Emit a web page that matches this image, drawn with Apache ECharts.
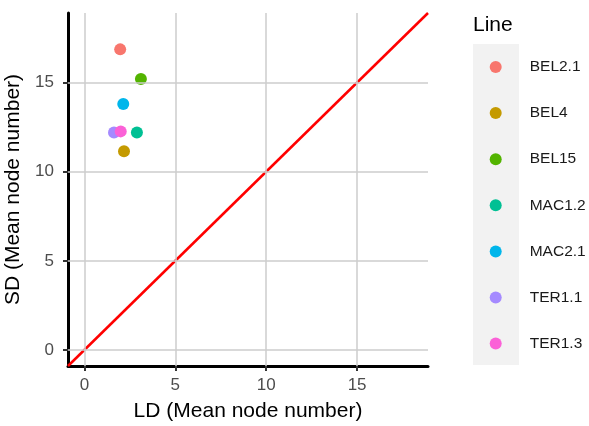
<!DOCTYPE html>
<html>
<head>
<meta charset="utf-8">
<script src="https://cdn.jsdelivr.net/npm/echarts@6/dist/echarts.min.js"></script>
<style>
html,body{margin:0;padding:0;background:#fff;}
#chart{width:589px;height:426px;}
</style>
</head>
<body>
<div id="chart"></div>
<script>
// Data
var lines = ['BEL2.1', 'BEL4', 'BEL15', 'MAC1.2', 'MAC2.1', 'TER1.1', 'TER1.3'];
var ldValues = [1.97, 2.18, 3.11, 2.89, 2.14, 1.63, 2.00];
var sdValues = [16.86, 11.15, 15.20, 12.20, 13.80, 12.20, 12.26];
var colors = ['#F8766D', '#C49A00', '#53B400', '#00C094', '#00B6EB', '#A58AFF', '#FB61D7'];
var tickValues = [0, 5, 10, 15];
var axisMin = -0.9, axisMax = 18.9;
// reference line y = x (intercept 0, slope 1)
var ablineX = [axisMin, axisMax];

var FONT = "'Liberation Sans', Arial, Helvetica, sans-serif";
var chart = echarts.init(document.getElementById('chart'), null, {renderer: 'canvas'});

var gridMarks = [];
tickValues.forEach(function (v) { gridMarks.push({xAxis: v}); });
tickValues.forEach(function (v) { gridMarks.push({yAxis: v}); });

var series = [{
  type: 'line',
  name: '__grid',
  data: [],
  z: 1,
  silent: true,
  markLine: {
    silent: true,
    symbol: ['none', 'none'],
    label: {show: false},
    lineStyle: {color: '#CCCCCC', width: 1.5, type: 'solid'},
    emphasis: {disabled: true},
    animation: false,
    data: gridMarks
  }
}, {
  type: 'line',
  name: '__abline',
  data: ablineX.map(function (x) { return [x, x]; }),
  showSymbol: false,
  symbol: 'none',
  z: 2,
  silent: true,
  lineStyle: {color: '#FF0000', width: 2.5},
  animation: false
}];

lines.forEach(function (name, i) {
  series.push({
    type: 'scatter',
    name: name,
    data: [[ldValues[i], sdValues[i]]],
    symbol: 'circle',
    symbolSize: 12,
    itemStyle: {color: colors[i], opacity: 1},
    z: 3,
    animation: false
  });
});

var option = {
  backgroundColor: '#ffffff',
  animation: false,
  textStyle: {fontFamily: FONT},
  grid: {left: 68, right: 161, top: 13, bottom: 60, containLabel: false, outerBoundsMode: 'none'},
  xAxis: {
    type: 'value',
    min: axisMin,
    max: axisMax,
    name: 'LD (Mean node number)',
    nameLocation: 'middle',
    nameGap: 35,
    nameTextStyle: {fontSize: 21, color: '#000000', fontFamily: FONT},
    axisLine: {show: true, onZero: false, lineStyle: {color: '#000000', width: 3}},
    axisTick: {show: true, length: 5, customValues: tickValues, lineStyle: {color: '#333333', width: 2}},
    axisLabel: {show: true, customValues: tickValues, margin: 11, fontSize: 17, color: '#4D4D4D', fontFamily: FONT},
    splitLine: {show: false}
  },
  yAxis: {
    type: 'value',
    min: axisMin,
    max: axisMax,
    name: 'SD (Mean node number)',
    nameLocation: 'middle',
    nameGap: 39,
    nameTextStyle: {fontSize: 21, color: '#000000', fontFamily: FONT},
    axisLine: {show: true, onZero: false, lineStyle: {color: '#000000', width: 3}},
    axisTick: {show: true, length: 5, customValues: tickValues, lineStyle: {color: '#333333', width: 2}},
    axisLabel: {show: true, customValues: tickValues, margin: 14, fontSize: 17, color: '#4D4D4D', fontFamily: FONT},
    splitLine: {show: false}
  },
  legend: {
    data: lines,
    orient: 'vertical',
    left: 489.7,
    top: 59,
    padding: 0,
    itemWidth: 12,
    itemHeight: 12,
    itemGap: 30.1,
    icon: 'circle',
    selectedMode: false,
    textStyle: {fontSize: 15.5, color: '#1A1A1A', fontFamily: FONT, lineHeight: 16, padding: [0, 0, 0, 23]}
  },
  graphic: [{
    type: 'rect',
    shape: {x: 473, y: 44, width: 46, height: 321},
    style: {fill: '#F2F2F2'},
    z: -10,
    silent: true
  }, {
    type: 'text',
    left: 473,
    top: 15,
    style: {text: 'Line', fontSize: 21, fill: '#000000', fontFamily: FONT},
    silent: true
  }],
  series: series
};
chart.setOption(option);
</script>
</body>
</html>
